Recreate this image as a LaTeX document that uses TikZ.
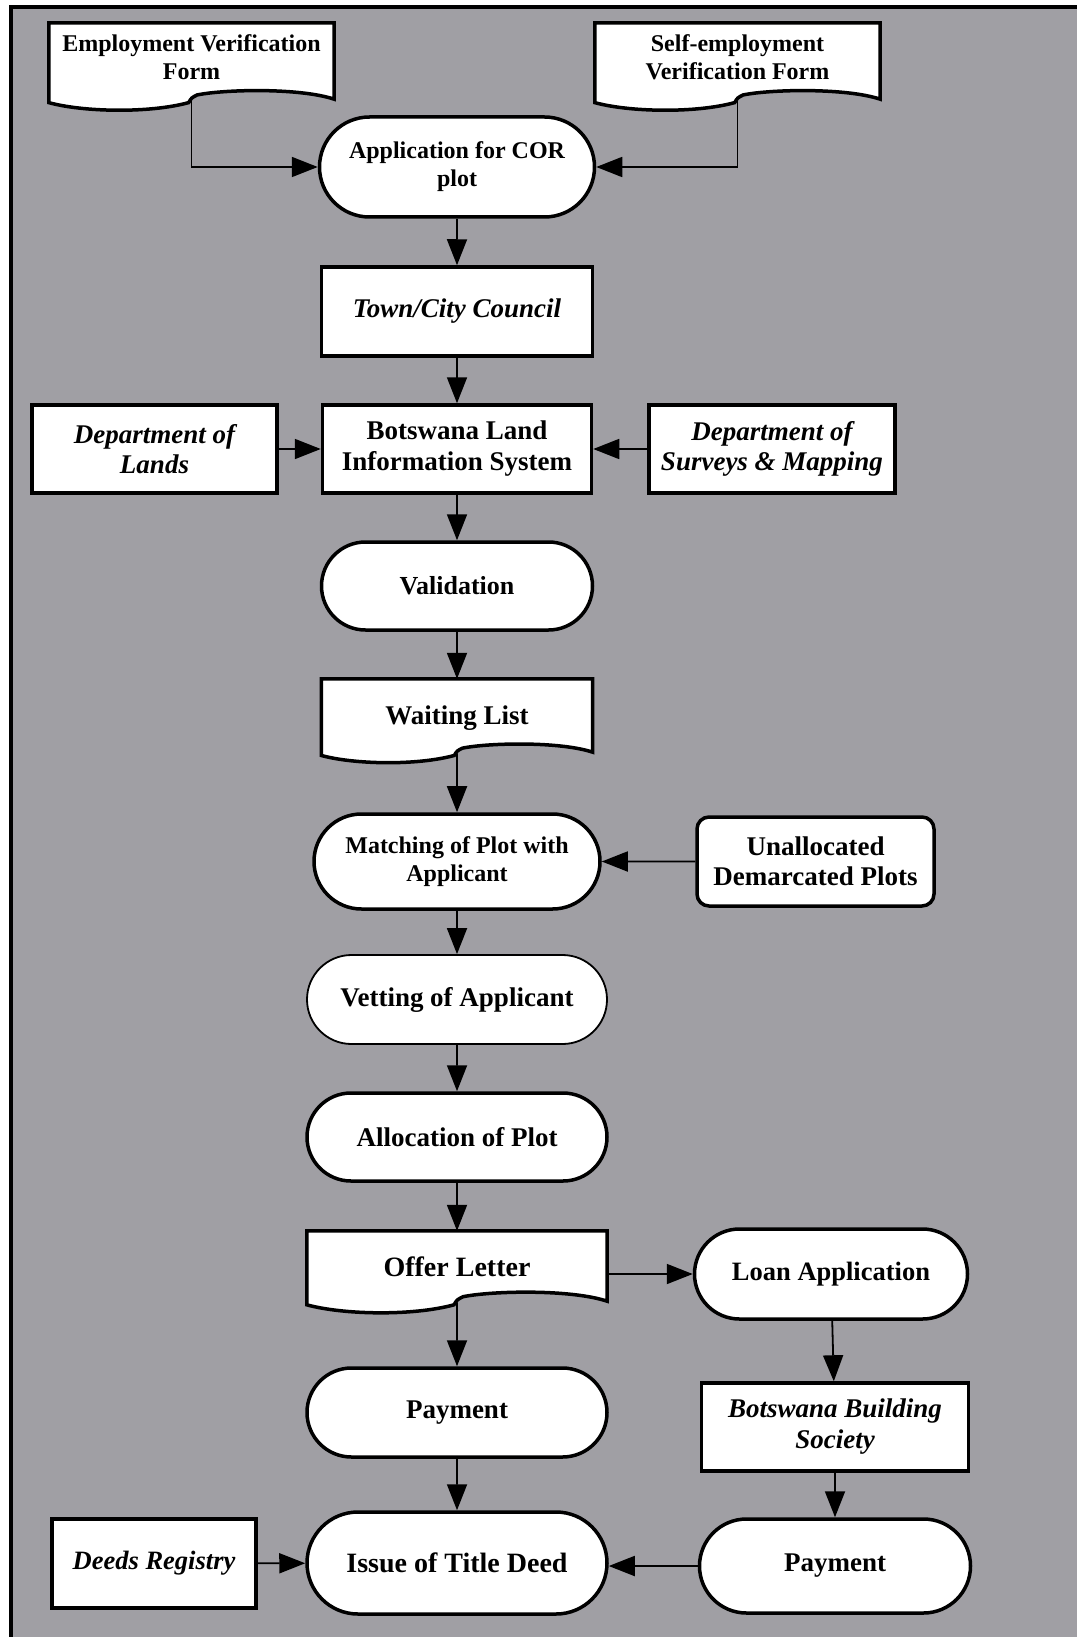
\documentclass[tikz,border=0pt]{standalone}
\usepackage{fontspec}
\setmainfont{Liberation Serif}
\usetikzlibrary{shapes.misc,arrows.meta,calc}
\definecolor{panelgray}{RGB}{160,159,164}
\pgfdeclarelayer{back}
\pgfdeclarelayer{docs}
\pgfsetlayers{back,docs,main}

% document symbol drawn around a (borderless) text node; #2 = extra depth of the right end
\newcommand\docoutline[2]{%
  \begin{pgfonlayer}{docs}
  \draw[docline] let \p1=(#1.north west), \p2=(#1.south east), \n1={\x2-\x1}, \n2={\y2-(#2)} in
    (\x1,\y1) -- (\x2,\y1) -- (\x2,\n2)
    .. controls (\x2-0.12*\n1,\n2+0.04*\n1) and (\x1+0.62*\n1,\n2+0.035*\n1) .. (\x1+0.52*\n1,\n2+0.015*\n1)
    .. controls (\x1+0.5*\n1,\n2+0.005*\n1) .. (\x1+0.49*\n1,\n2-0.012*\n1)
    .. controls (\x1+0.35*\n1,\n2-0.05*\n1) and (\x1+0.12*\n1,\n2-0.045*\n1) .. (\x1,\n2-0.012*\n1)
    -- cycle;
  \end{pgfonlayer}
  \path let \p1=(#1.south west), \p2=(#1.south), \p3=(#1.south east), \n1={\x3-\x1},
    \n2={\y2-(#2)-0.004*\n1} in
    (\x2,\n2) coordinate (#1-tail);
}

\tikzset{
  fsz/.style 2 args={font={\fontsize{#1}{#2}\selectfont\bfseries}},
  base/.style={draw, fill=white, line width=3.5pt, inner sep=0pt, align=center, fsz={27}{31}},
  term/.style={base, rounded rectangle},
  box/.style={base, rectangle},
  docnode/.style={rectangle, inner sep=0pt, align=center, fsz={27}{31}},
  docline/.style={draw, fill=white, line width=3.5pt, line join=miter},
  conn/.style={line width=1.8pt, -{Triangle[length=26pt,width=20pt]}},
}

\begin{document}
\begin{tikzpicture}[x=1pt,y=1pt]
\useasboundingbox (0,0) rectangle (1077,-1637);
\begin{pgfonlayer}{back}
  \fill[white] (0,0) rectangle (1077,-1637);
  \fill[panelgray] (11,-7) rectangle (1077,-1637);
  \draw[line width=4pt] (11,-1637) -- (11,-7) -- (1077,-7);
\end{pgfonlayer}

% top forms
\node[docnode, fsz={24}{28}, minimum width=285pt, minimum height=68pt] (emp) at (191.5,-57)
  {Employment Verification\\Form};
\node[docnode, fsz={24}{28}, minimum width=285pt, minimum height=68pt] (self) at (737.5,-57)
  {Self-employment\\Verification Form};
\docoutline{emp}{8pt}
\docoutline{self}{8pt}

% main column
\node[term, fsz={24}{28}, minimum width=275pt, minimum height=100pt] (app) at (457,-167)
  {Application for COR\\plot};
\node[box, minimum width=271pt, minimum height=89pt] (town) at (457,-311.5)
  {\itshape Town/City Council};
\node[box, minimum width=269pt, minimum height=88pt] (blis) at (457,-449)
  {Botswana Land\\Information System};
\node[box, fsz={27}{30}, minimum width=245pt, minimum height=88pt] (lands) at (154.5,-449)
  {\itshape Department of\\\itshape Lands};
\node[box, fsz={27}{30}, minimum width=246pt, minimum height=88pt] (surveys) at (772,-449)
  {\itshape Department of\\\itshape Surveys \& Mapping};
\node[term, fsz={26}{30}, minimum width=271pt, minimum height=88pt] (valid) at (457,-586)
  {Validation};
\node[docnode, minimum width=271pt, minimum height=78pt] (wait) at (457,-718)
  {Waiting List};
\docoutline{wait}{-5pt}
\node[term, fsz={24}{28}, minimum width=286pt, minimum height=95pt] (match) at (457,-861.5)
  {Matching of Plot with\\Applicant};
\node[box, rounded corners=12pt, fsz={27}{30}, minimum width=237pt, minimum height=89pt] (unalloc) at (815.5,-861.5)
  {Unallocated\\Demarcated Plots};
\node[term, line width=1.8pt, minimum width=300pt, minimum height=89pt] (vet) at (457,-999.5)
  {Vetting of Applicant};
\node[term, minimum width=300pt, minimum height=88pt] (alloc) at (457,-1137)
  {Allocation of Plot};
\node[docnode, fsz={28}{32}, minimum width=300pt, minimum height=72pt] (offer) at (457,-1267)
  {Offer Letter};
\docoutline{offer}{-2pt}
\node[term, fsz={26.5}{30}, minimum width=273pt, minimum height=90pt] (loan) at (831,-1274)
  {Loan Application};
\node[term, minimum width=300pt, minimum height=89pt] (pay1) at (457,-1412.5)
  {Payment};
\node[box, fsz={27}{31}, minimum width=267pt, minimum height=88pt] (bbs) at (835,-1427)
  {\itshape Botswana Building\\\itshape Society};
\node[term, fsz={28}{32}, minimum width=300pt, minimum height=102pt] (issue) at (457,-1563)
  {Issue of Title Deed};
\node[box, fsz={26.5}{30}, minimum width=204pt, minimum height=89pt] (deeds) at (154,-1563.5)
  {\itshape Deeds Registry};
\node[term, minimum width=271pt, minimum height=94pt] (pay2) at (835,-1566)
  {Payment};

% connectors
\draw[conn] (emp-tail) |- (app.west);
\draw[conn] (self-tail) |- (app.east);
\draw[conn] (app) -- (town);
\draw[conn] (town) -- (blis);
\draw[conn] (lands) -- (blis);
\draw[conn] (surveys) -- (blis);
\draw[conn] (blis) -- (valid);
\draw[conn] (valid) -- (wait);
\draw[conn] (wait-tail) -- (match);
\draw[conn] (unalloc) -- (match);
\draw[conn] (match) -- (vet);
\draw[conn] (vet) -- (alloc);
\draw[conn] (alloc) -- (offer);
\draw[conn] (offer.east |- loan.west) -- (loan.west);
\draw[conn] (offer-tail) -- (pay1);
\draw[conn] (loan) -- (bbs);
\draw[conn] (bbs) -- (pay2);
\draw[conn] (pay1) -- (issue);
\draw[conn] (deeds) -- (issue);
\draw[conn] (pay2.west) -- (pay2.west -| issue.east);
\end{tikzpicture}
\end{document}
